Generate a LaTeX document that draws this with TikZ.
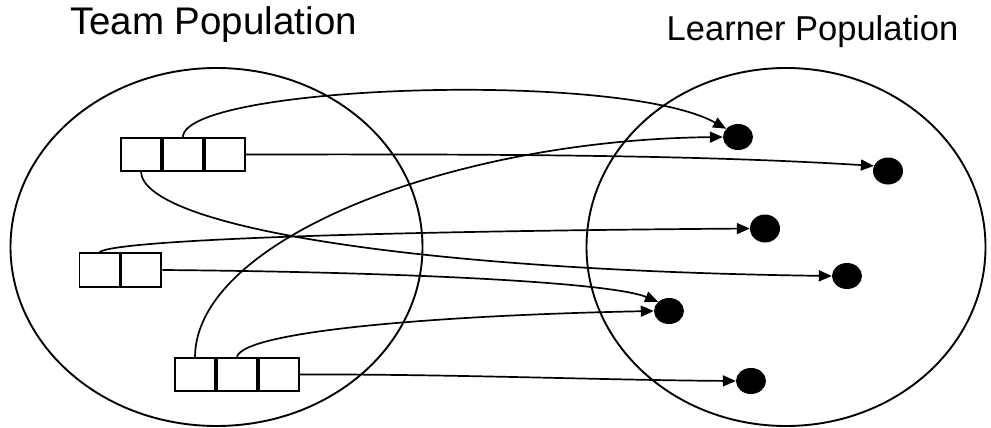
\documentclass[tikz,border=0pt]{standalone}
\usepackage{fontspec}
\setmainfont{Liberation Sans}
\usetikzlibrary{arrows.meta,shapes.geometric}

\tikzset{
  population/.style={draw, ellipse, line width=1.9pt, inner sep=0pt},
  cell/.style={draw, line width=1.9pt, minimum width=40pt, minimum height=33.5pt, inner sep=0pt},
  learner/.style={ellipse, fill=black, minimum width=30pt, minimum height=26pt, inner sep=0pt},
  link/.style={line width=1.7pt, -{Triangle[length=13pt,width=11pt]}},
}

\begin{document}
\begin{tikzpicture}[x=1pt,y=-1pt]
\useasboundingbox (0,0) rectangle (991,428);

% titles
\node[anchor=base, font=\fontsize{38.5}{42}\selectfont] (teamtitle) at (213.5,35) {Team Population};
\node[anchor=base, font=\fontsize{34.5}{38}\selectfont] (learnertitle) at (812.5,41) {Learner Population};

% the two populations
\node[population, minimum width=412pt, minimum height=358pt] (teampop) at (216.5,247) {};
\node[population, minimum width=399pt, minimum height=358pt] (learnerpop) at (786,247) {};

% teams: rows of cells
\node[cell] (t1) at (141,154.5) {};
\node[cell, anchor=west] (t2) at (t1.east) {};
\node[cell, anchor=west] (t3) at (t2.east) {};

\node[cell] (m1) at (99.5,270) {};
\node[cell, anchor=west] (m2) at (m1.east) {};

\node[cell] (b1) at (195,374.5) {};
\node[cell, anchor=west] (b2) at (b1.east) {};
\node[cell, anchor=west] (b3) at (b2.east) {};

% learners
\node[learner] (d1) at (738,137) {};
\node[learner, minimum height=27pt] (d2) at (888,171) {};
\node[learner, minimum height=28pt] (d3) at (765,228.5) {};
\node[learner] (d4) at (847,276) {};
\node[learner] (d5) at (669,311) {};
\node[learner] (d6) at (751,381) {};

% references from team cells to learners
\draw[link] (t2.north) .. controls (186,85) and (620,70) .. (d1.145);
\draw[link] (t3.east) .. controls (500,154) and (700,155) .. (d2.160);
\draw[link] (t1.south) .. controls (145,225) and (400,270) .. (d4.west);
\draw[link] (m1.north) .. controls (110,242) and (300,232) .. (d3.west);
\draw[link] (m2.east) .. controls (400,272) and (610,282) .. (d5.140);
\draw[link] (b1.north) .. controls (196,240) and (450,140) .. (d1.west);
\draw[link] (b2.north) .. controls (245,330) and (450,315) .. (d5.west);
\draw[link] (b3.east) .. controls (450,374) and (600,380) .. (d6.west);
\end{tikzpicture}
\end{document}
